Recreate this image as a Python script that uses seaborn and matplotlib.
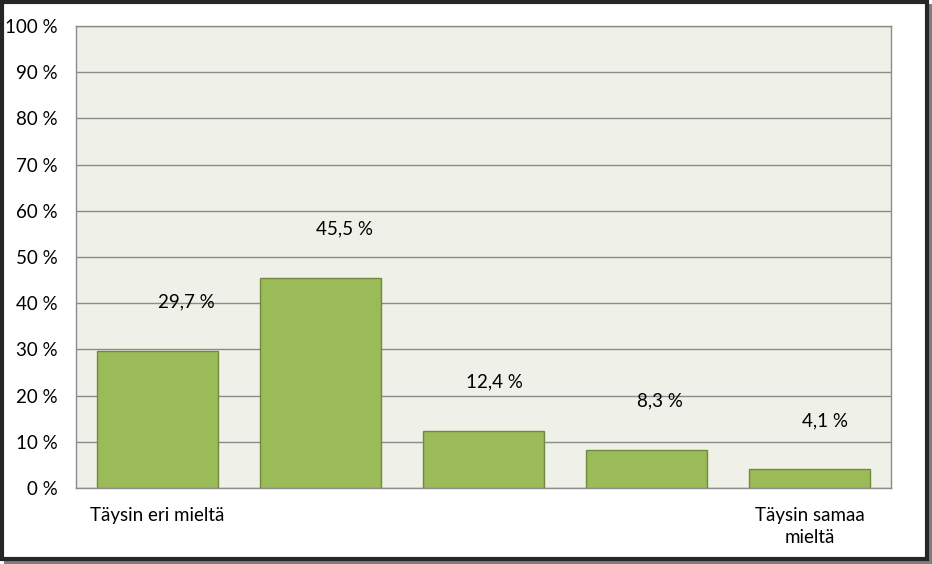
import matplotlib
matplotlib.use("Agg")
import matplotlib.pyplot as plt
import seaborn as sns
import pandas as pd
from matplotlib.patches import Rectangle

categories = ["Täysin eri mieltä", "2", "3", "4", "Täysin samaa\nmieltä"]
tick_labels = ["Täysin eri mieltä", "", "", "", "Täysin samaa\nmieltä"]
values = [29.7, 45.5, 12.4, 8.3, 4.1]
value_labels = ["29,7 %", "45,5 %", "12,4 %", "8,3 %", "4,1 %"]
y_ticks = [0, 10, 20, 30, 40, 50, 60, 70, 80, 90, 100]
label_dx = [21, 17, 8, 10, 11]  # label offsets in points (style)

sns.set_theme(style="white")
plt.rcParams['font.family'] = ['Lato', 'DejaVu Sans']

df = pd.DataFrame({"cat": categories, "val": values})

fig = plt.figure(figsize=(9.32, 5.64), dpi=100)
ax = fig.add_axes([76/932, 1-488/564, (891-76)/932, (488-26)/564])
ax.set_facecolor("#EFF1E8")

sns.barplot(data=df, x="cat", y="val", color="#9BBB59", width=0.74,
            edgecolor="#71893F", linewidth=1.0, saturation=1, ax=ax, zorder=3)

ax.set_ylim(0, 100)
ax.set_xlim(-0.5, 4.5)
ax.set_yticks(y_ticks)
ax.set_yticklabels([f"{t} %" for t in y_ticks])
ax.set_xticks(range(len(categories)))
ax.set_xticklabels(tick_labels, linespacing=1.35)
ax.set_xlabel("")
ax.set_ylabel("")
ax.yaxis.grid(True, color="#8C8C8C", linewidth=1.0, zorder=0)
ax.set_axisbelow(True)
ax.tick_params(axis="y", length=0, pad=13, labelsize=13.5, colors="#000000")
ax.tick_params(axis="x", length=0, pad=14, labelsize=13.5, colors="#000000")
for s in ax.spines.values():
    s.set_color("#8C8C8C")
    s.set_linewidth(1.0)

for i, (v, lab) in enumerate(zip(values, value_labels)):
    ax.annotate(lab, xy=(i, v), xytext=(label_dx[i], 35), textcoords="offset points",
                ha="center", va="center", fontsize=13.5, color="#000000")

# outer frame with shadow
fig.patches.append(Rectangle((4/932, 0), 1-4/932, 1-4/564, transform=fig.transFigure,
                             facecolor="#7F7F7F", edgecolor="none", zorder=-2))
fig.patches.append(Rectangle((1.5/932, 5/564), 1-7/932, 1-7/564, transform=fig.transFigure,
                             facecolor="white", edgecolor="#262626", linewidth=3, zorder=-1))

fig.savefig("out.png", dpi=100)
